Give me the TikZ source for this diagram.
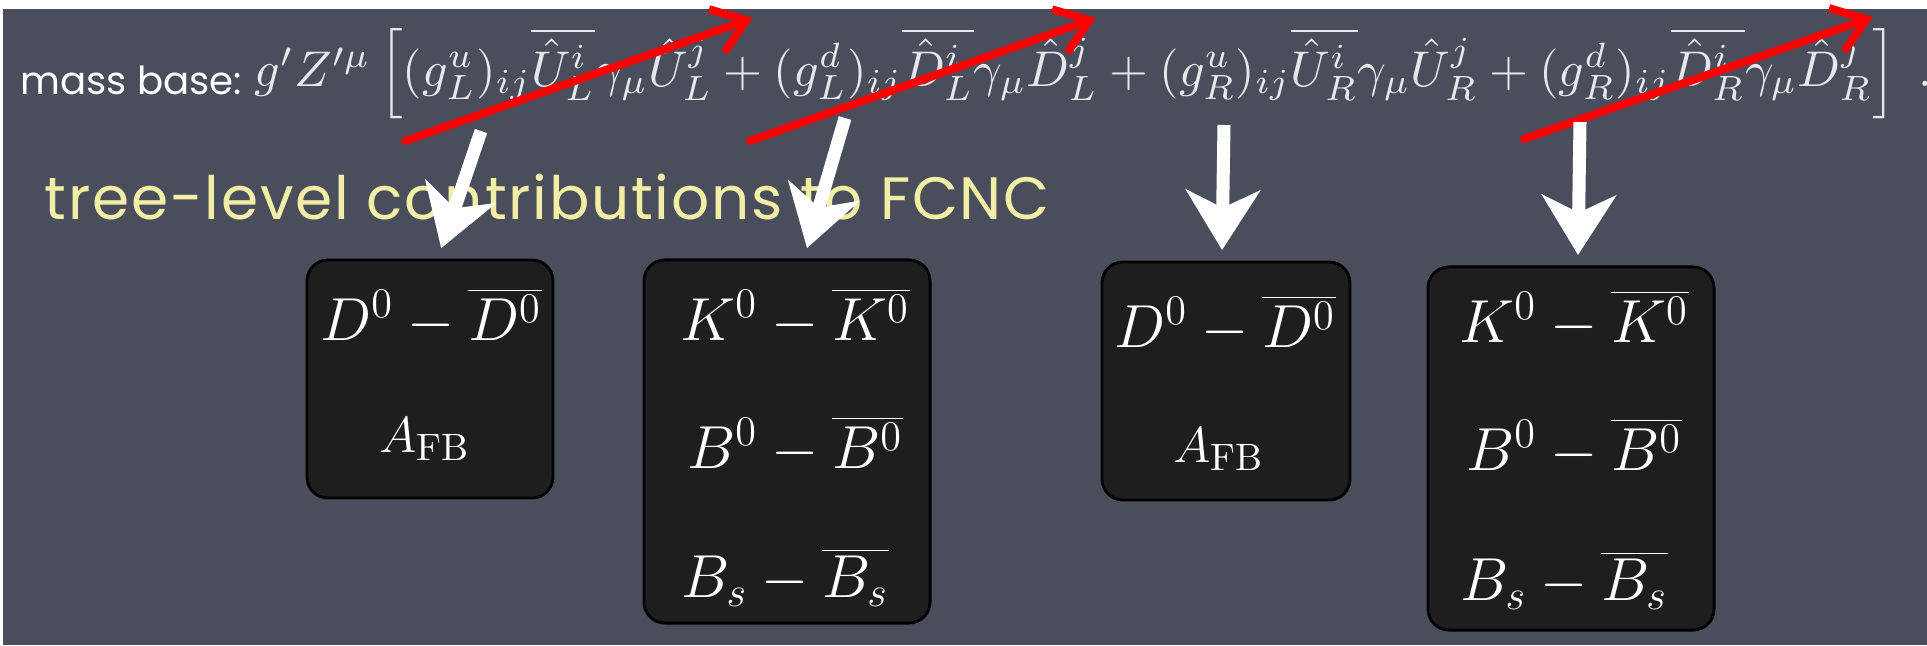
\documentclass[tikz,border=0pt]{standalone}
\usepackage{fontspec}
\usepackage{graphicx}
\usetikzlibrary{arrows.meta}
\newfontfamily\chalkfont[LetterSpace=3]{Poppins}
\newfontfamily\labelfont{Poppins}
\definecolor{slate}{RGB}{74,78,92}
\definecolor{boxfill}{RGB}{30,30,30}
\definecolor{chalkyellow}{RGB}{243,238,165}
\definecolor{eqwhite}{RGB}{232,232,236}
\newcommand{\EqWidth}{477pt}
\newcommand{\MixRow}[1]{$#1^0-\overline{#1^0}$}
\tikzset{
  mesonbox/.style={draw=black,line width=0.8pt,fill=boxfill,rounded corners=6pt,inner sep=0pt},
  mesonline/.style={text=white,inner sep=0pt,anchor=base,font=\fontsize{16.5}{20}\selectfont},
  afbline/.style={mesonline,font=\fontsize{15.5}{18}\selectfont},
  chalkarrow/.style={draw=white,line width=3.7pt,shorten >=1pt,
    -{Stealth[length=17pt,width=21pt,inset=5pt]}},
  redarrow/.style={draw=red,line width=2.3pt,line cap=round,
    -{Straight Barb[length=9pt,width=13pt]}}
}

\begin{document}
\begin{tikzpicture}[x=0.01cm,y=-0.01cm]
  \useasboundingbox (0,0) rectangle (1927,645);
  \fill[white] (0,0) rectangle (1927,645);
  \fill[slate] (3,9) rectangle (1927,645);

  % coupling in the mass base
  \node[anchor=base west,inner sep=0pt,text=white,font=\labelfont\fontsize{11}{13}\selectfont]
    (lbl) at (20,94) {mass base:};
  \node[anchor=base west,inner sep=0pt,text=eqwhite] (eq) at (254,86) {\resizebox{\EqWidth}{!}{%
    $g'Z'^{\mu}\left[(g^u_L)_{ij}\overline{\hat{U}^i_L}\gamma_\mu\hat{U}^j_L
    +(g^d_L)_{ij}\overline{\hat{D}^i_L}\gamma_\mu\hat{D}^j_L
    +(g^u_R)_{ij}\overline{\hat{U}^i_R}\gamma_\mu\hat{U}^j_R
    +(g^d_R)_{ij}\overline{\hat{D}^i_R}\gamma_\mu\hat{D}^j_R\right]\;.$}};
  \node[anchor=base west,inner sep=0pt,text=chalkyellow,font=\chalkfont\fontsize{17}{20}\selectfont]
    (tree) at (44,219) {tree-level contributions to FCNC};

  % boxes
  \node[mesonbox,minimum width=2.46cm,minimum height=2.38cm] (b1) at (430,379) {};
  \node[mesonbox,minimum width=2.86cm,minimum height=3.63cm] (b2) at (787,441.5) {};
  \node[mesonbox,minimum width=2.48cm,minimum height=2.38cm] (b3) at (1226,381) {};
  \node[mesonbox,minimum width=2.86cm,minimum height=3.63cm] (b4) at (1571,448.5) {};

  \foreach \bx/\cx/\ya/\yb in {b1/431/340/452, b3/1225/347/462} {
    \node[mesonline] (\bx d) at (\cx,\ya) {\MixRow{D}};
    \node[afbline] (\bx a) at (\cx-6,\yb) {$A_{\mathrm{FB}}$};
  }
  \foreach \bx/\cx/\ya/\yb/\yc in {b2/795/340/468/597, b4/1574/342/470/600} {
    \node[mesonline] (\bx k) at (\cx,\ya) {\MixRow{K}};
    \node[mesonline] (\bx b) at (\cx,\yb) {\MixRow{B}};
    \node[mesonline] (\bx s) at (\cx-10,\yc) {$B_s-\overline{B_s}$};
  }

  % red strikes
  \coordinate (r1s) at (405,141); \coordinate (r1e) at (753,18);
  \coordinate (r2s) at (750,141); \coordinate (r2e) at (1096,18);
  \coordinate (r3s) at (1524,139); \coordinate (r3e) at (1873,17);
  \foreach \i in {1,2,3}
    \draw[redarrow] (r\i s) -- (r\i e);

  % chalk arrows
  \coordinate (w1) at (481,131);
  \coordinate (w2) at (845,118);
  \coordinate (w3) at (1224,125);
  \coordinate (w4) at (1580,122);
  \foreach \i/\dx in {1/0.1,2/0.19,3/-0.04,4/0.07}
    \draw[chalkarrow] (w\i) -- ([xshift=\dx cm,yshift=0.07cm]b\i.north);
\end{tikzpicture}
\end{document}
